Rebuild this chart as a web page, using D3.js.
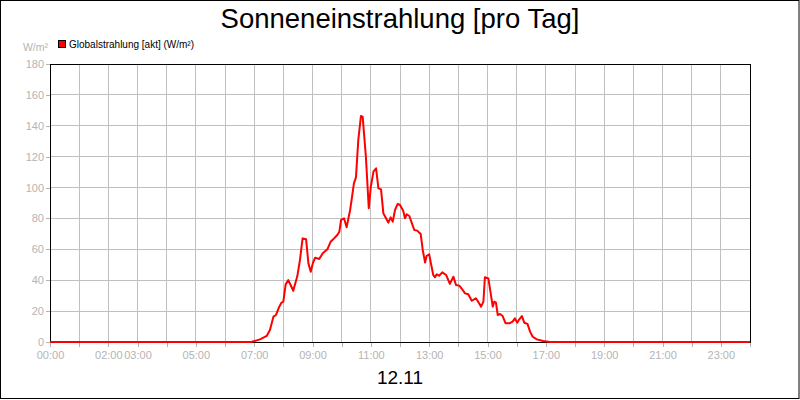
<!DOCTYPE html>
<html>
<head>
<meta charset="utf-8">
<script src="https://cdn.jsdelivr.net/npm/d3@7"></script>
<style>
  body { margin: 0; background: #fff; }
  svg { display: block; font-family: "Liberation Sans", Arial, sans-serif; }
  .grid line { stroke: #c0c0c0; stroke-width: 1; shape-rendering: crispEdges; }
  .tick text { fill: #b4b4b4; font-size: 11px; }
  .tick line { stroke: #b4b4b4; shape-rendering: crispEdges; }
  .domain { display: none; }
</style>
</head>
<body>
<svg id="chart" width="800" height="400"></svg>
<script>
// hours of the day and global radiation in W/m²
const hours = [0, 6.9, 7.2, 7.43, 7.54, 7.66, 7.75, 7.86, 7.94, 8.0, 8.08, 8.17, 8.25, 8.34, 8.48, 8.57,
  8.66, 8.78, 8.86, 8.94, 9.01, 9.09, 9.23, 9.35, 9.51, 9.62, 9.74, 9.85, 9.92, 9.98, 10.08, 10.17,
  10.29, 10.34, 10.42, 10.49, 10.57, 10.66, 10.72, 10.83, 10.93, 11.0, 11.09, 11.18, 11.26, 11.35,
  11.43, 11.52, 11.6, 11.68, 11.75, 11.83, 11.92, 12.0, 12.11, 12.17, 12.23, 12.32, 12.4, 12.49,
  12.59, 12.71, 12.78, 12.86, 12.91, 13.0, 13.06, 13.14, 13.2, 13.26, 13.34, 13.45, 13.58, 13.71,
  13.83, 13.92, 14.03, 14.15, 14.23, 14.34, 14.46, 14.6, 14.68, 14.78, 14.86, 14.91, 15.03, 15.11,
  15.18, 15.23, 15.29, 15.35, 15.43, 15.52, 15.62, 15.75, 15.86, 15.94, 16.02, 16.09, 16.18, 16.26,
  16.37, 16.46, 16.55, 16.69, 16.91, 17.14, 24]
const radiation = [0, 0, 1.7, 3.9, 7.8, 16.4, 17.5, 22.9, 25.5, 26.1, 37.3, 40.1, 36.9, 33.2, 42.7, 53.1,
  67.1, 66.5, 50.9, 45.5, 50.9, 54.6, 53.7, 57.4, 60.0, 64.9, 67.1, 69.3, 71.4, 79.0, 80.1, 74.3,
  85.5, 91.9, 102.7, 106.6, 130.8, 146.3, 145.9, 120, 86.6, 100.6, 110.3, 112.5, 99.5, 98.8,
  83.3, 80.1, 77.3, 80.7, 77.9, 85.5, 89.4, 88.7, 85.0, 80.1, 82.7, 81.6, 77.3, 72.5,
  72.1, 69.9, 59.6, 51.4, 55.7, 56.8, 50.9, 43.4, 41.9, 43.8, 42.9, 45.1, 43.4, 37.6,
  42.3, 36.9, 36.5, 33.7, 31.5, 30.9, 26.7, 28.3, 26.1, 22.9, 26.1, 41.9, 41.2, 31.5,
  22.9, 26.1, 25.5, 17.5, 18.1, 16.8, 12.1, 12.1, 13.2, 15.3, 12.5, 14.7, 16.8, 12.5,
  11.7, 6.7, 3.4, 1.7, 0.6, 0, 0]

const xTickHours = [0, 2, 3, 5, 7, 9, 11, 13, 15, 17, 19, 21, 23]
const yTicks = [0, 20, 40, 60, 80, 100, 120, 140, 160, 180]

const svg = d3.select("#chart")
const plotLeft = 50, plotRight = 750, plotTop = 64, plotBottom = 342

const x = d3.scaleLinear().domain([0, 24]).range([plotLeft, plotRight])
const y = d3.scaleLinear().domain([0, 180]).range([plotBottom, plotTop])
const fmtHour = (h) => String(h).padStart(2, "0") + ":00"

// outer frame
svg.append("rect")
  .attr("x", 0.5).attr("y", 0.5)
  .attr("width", 798.5).attr("height", 398)
  .attr("fill", "#fff").attr("stroke", "#000")

// grid
svg.append("g").attr("class", "grid")
  .selectAll("line")
  .data(d3.range(1, 24)).enter()
    .append("line")
      .attr("x1", d => x(d)).attr("x2", d => x(d))
      .attr("y1", plotTop).attr("y2", plotBottom)
svg.select(".grid")
  .selectAll(".h")
  .data(yTicks.slice(1, -1)).enter()
    .append("line")
      .attr("class", "h")
      .attr("x1", plotLeft).attr("x2", plotRight)
      .attr("y1", d => y(d)).attr("y2", d => y(d))

// axes
svg.append("g")
  .attr("transform", `translate(0,${plotBottom})`)
  .call(d3.axisBottom(x).tickValues(d3.range(0, 25)).tickSize(5).tickPadding(4)
    .tickFormat(d => xTickHours.includes(d) ? fmtHour(d) : ""))

svg.append("g")
  .attr("transform", `translate(${plotLeft},0)`)
  .call(d3.axisLeft(y).tickValues(yTicks).tickSize(4).tickPadding(2))

// plot frame
svg.append("rect")
  .attr("x", plotLeft).attr("y", plotTop + 0.5)
  .attr("width", plotRight - plotLeft).attr("height", plotBottom - plotTop - 0.5)
  .attr("fill", "none").attr("stroke", "#000")
  .attr("shape-rendering", "crispEdges")

// line
const line = d3.line()
  .x((d, i) => x(hours[i]))
  .y(d => y(d))

svg.append("path")
  .datum(radiation)
  .attr("d", line)
  .attr("fill", "none")
  .attr("stroke", "#ff0000")
  .attr("stroke-width", 2)
  .attr("stroke-linejoin", "round")

// titles and legend
svg.append("text")
  .attr("x", 400).attr("y", 28)
  .attr("text-anchor", "middle")
  .attr("font-size", 27.5)
  .text("Sonneneinstrahlung [pro Tag]")

svg.append("text")
  .attr("x", 400).attr("y", 384)
  .attr("text-anchor", "middle")
  .attr("font-size", 19)
  .text("12.11")

svg.append("text")
  .attr("x", 48).attr("y", 51)
  .attr("text-anchor", "end")
  .attr("font-size", 10.5)
  .attr("fill", "#b4b4b4")
  .text("W/m²")

svg.append("rect")
  .attr("x", 58.5).attr("y", 40.5)
  .attr("width", 7).attr("height", 7)
  .attr("fill", "#ff0000").attr("stroke", "#000")

svg.append("text")
  .attr("x", 69).attr("y", 48)
  .attr("font-size", 10)
  .text("Globalstrahlung [akt] (W/m²)")
</script>
</body>
</html>
